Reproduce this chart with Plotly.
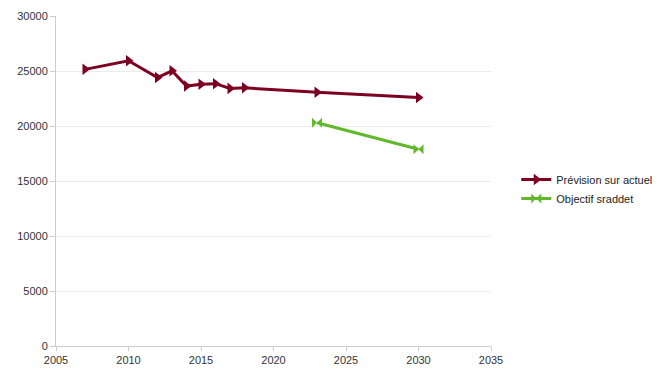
import plotly.graph_objects as go

# Forecast series (current trend)
years_prev = [2007, 2010, 2012, 2013, 2014, 2015, 2016, 2017, 2018, 2023, 2030]
values_prev = [25150, 25930, 24400, 25020, 23630, 23800, 23850, 23420, 23470, 23060, 22590]

# SRADDET target series
years_obj = [2023, 2030]
values_obj = [20300, 17880]

name_prev = "Prévision sur actuel"
name_obj = "Objectif sraddet"

fig = go.Figure()
fig.add_trace(go.Scatter(
    x=years_prev, y=values_prev, name=name_prev, mode="lines+markers",
    line=dict(color="#7E0021", width=3),
    marker=dict(symbol="triangle-right", size=10, color="#7E0021"),
))
fig.add_trace(go.Scatter(
    x=years_obj, y=values_obj, name=name_obj, mode="lines+markers",
    line=dict(color="#62B82B", width=3),
    marker=dict(symbol="bowtie", size=10, color="#62B82B"),
))

axis_font = dict(family="Liberation Sans, Arial, sans-serif", size=11, color="#333333")
fig.update_layout(
    width=667, height=372,
    margin=dict(l=56, r=176, t=16, b=26, autoexpand=False),
    paper_bgcolor="white", plot_bgcolor="white",
    font=axis_font,
    showlegend=True,
    legend=dict(xref="container", yref="container", x=0.774, y=0.492,
                xanchor="left", yanchor="middle",
                font=dict(family="Liberation Sans, Arial, sans-serif", size=11, color="#222222"),
                bgcolor="rgba(0,0,0,0)", itemwidth=30, tracegroupgap=0),
)
fig.update_xaxes(
    range=[2005, 2035], tick0=2005, dtick=5, showgrid=False,
    showline=True, linecolor="#cccccc", linewidth=1,
    ticks="outside", ticklen=4, tickcolor="#cccccc", zeroline=False,
    tickfont=axis_font,
)
fig.update_yaxes(
    range=[0, 30000], dtick=5000, showgrid=True, gridcolor="#ebebeb",
    showline=True, linecolor="#cccccc", linewidth=1,
    ticks="outside", ticklen=5, tickcolor="#cccccc", zeroline=False,
    tickfont=axis_font, tickformat="d",
)

fig.write_html("out.html")
